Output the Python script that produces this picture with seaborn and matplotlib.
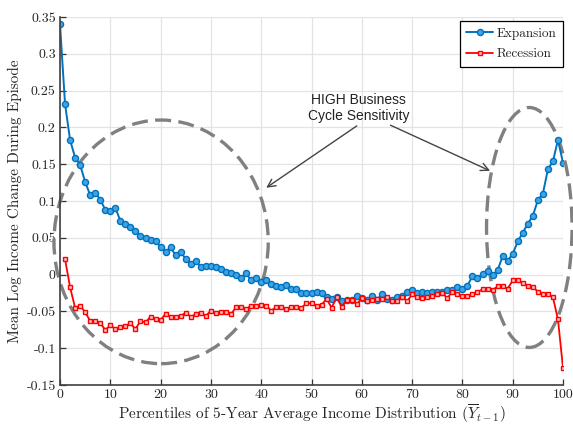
import numpy as np
import pandas as pd
import matplotlib
matplotlib.use("Agg")
import matplotlib.pyplot as plt
from matplotlib.patches import Ellipse
import seaborn as sns

# ---------------- data ----------------
exp_pct = list(range(0, 101))
expansion = [
    0.340, 0.232, 0.183, 0.159, 0.149, 0.126, 0.108, 0.111, 0.102, 0.088,
    0.087, 0.091, 0.073, 0.069, 0.064, 0.059, 0.052, 0.050, 0.047, 0.045,
    0.038, 0.031, 0.037, 0.026, 0.031, 0.021, 0.015, 0.019, 0.010, 0.012,
    0.012, 0.011, 0.008, 0.003, 0.002, 0.000, -0.004, 0.002, -0.008, -0.005,
    -0.010, -0.007, -0.013, -0.016, -0.017, -0.014, -0.019, -0.019, -0.025, -0.025,
    -0.025, -0.024, -0.025, -0.030, -0.033, -0.031, -0.036, -0.035, -0.034, -0.029,
    -0.032, -0.035, -0.029, -0.034, -0.027, -0.033, -0.034, -0.030, -0.029, -0.023,
    -0.021, -0.025, -0.024, -0.025, -0.024, -0.024, -0.023, -0.021, -0.021, -0.017,
    -0.020, -0.015, -0.002, -0.005, 0.001, 0.005, -0.001, 0.006, 0.025, 0.019,
    0.028, 0.045, 0.057, 0.069, 0.080, 0.101, 0.110, 0.143, 0.154, 0.183,
    0.152,
]
rec_pct = list(range(1, 101))
recession = [
    0.021, -0.017, -0.045, -0.042, -0.051, -0.063, -0.063, -0.066, -0.075, -0.069,
    -0.074, -0.071, -0.070, -0.066, -0.074, -0.063, -0.065, -0.057, -0.060, -0.062,
    -0.053, -0.057, -0.057, -0.056, -0.052, -0.057, -0.054, -0.052, -0.056, -0.049,
    -0.052, -0.051, -0.051, -0.054, -0.044, -0.044, -0.047, -0.042, -0.043, -0.041,
    -0.042, -0.049, -0.044, -0.044, -0.047, -0.044, -0.044, -0.045, -0.039, -0.039,
    -0.043, -0.041, -0.033, -0.045, -0.031, -0.044, -0.035, -0.034, -0.040, -0.032,
    -0.036, -0.034, -0.033, -0.033, -0.031, -0.036, -0.036, -0.030, -0.036, -0.027,
    -0.030, -0.032, -0.030, -0.029, -0.026, -0.025, -0.032, -0.023, -0.026, -0.029,
    -0.029, -0.027, -0.024, -0.020, -0.020, -0.021, -0.016, -0.016, -0.019, -0.008,
    -0.008, -0.012, -0.015, -0.017, -0.023, -0.027, -0.027, -0.031, -0.061, -0.127,
]
series_names = ["Expansion", "Recession"]
x_ticks = [0, 10, 20, 30, 40, 50, 60, 70, 80, 90, 100]
x_ticklabels = ["0", "10", "20", "30", "40", "50", "60", "70", "80", "90", "100"]
y_ticks = [0.35, 0.3, 0.25, 0.2, 0.15, 0.1, 0.05, 0, -0.05, -0.1, -0.15]
y_ticklabels = ["0.35", "0.3", "0.25", "0.2", "0.15", "0.1", "0.05", "0", "-0.05", "-0.1", "-0.15"]
annotation_text = "HIGH Business\nCycle Sensitivity"
x_label = r"Percentiles of 5-Year Average Income Distribution ($\overline{Y}_{t-1}$)"
y_label = "Mean Log Income Change During Episode"

df_exp = pd.DataFrame({"pct": exp_pct, "val": expansion})
df_rec = pd.DataFrame({"pct": rec_pct, "val": recession})

# ---------------- style ----------------
sns.set_theme(style="whitegrid")
plt.rcParams["font.family"] = ["cmr10", "DejaVu Serif"]
plt.rcParams["mathtext.fontset"] = "cm"
plt.rcParams["axes.unicode_minus"] = False

fig = plt.figure(figsize=(5.73, 4.32), dpi=100, facecolor="white")
ax = fig.add_axes([60 / 573, 1 - 385 / 432, 503 / 573, 368 / 432])
ax.set_facecolor("white")

blue = "#0072BD"
red = "#FF0000"

sns.lineplot(data=df_exp, x="pct", y="val", ax=ax, color=blue, linewidth=1.4,
             marker="o", markersize=4.4, markerfacecolor="#3FA3E6",
             markeredgecolor=blue, markeredgewidth=1.0, label=series_names[0])
sns.lineplot(data=df_rec, x="pct", y="val", ax=ax, color=red, linewidth=1.3,
             marker="s", markersize=3.4, markerfacecolor="#FFC0C0",
             markeredgecolor=red, markeredgewidth=1.0, label=series_names[1])

ax.set_xlim(0, 100)
ax.set_ylim(-0.15, 0.35)
ax.set_xticks(x_ticks)
ax.set_xticklabels(x_ticklabels)
ax.set_yticks(y_ticks)
ax.set_yticklabels(y_ticklabels)
ax.grid(True, color="#E3E3E3", linewidth=0.9)
ax.tick_params(axis="both", direction="in", length=4, width=0.9, color="#333333",
               labelsize=10, labelcolor="#262626", pad=3, left=True, bottom=True)

for side in ["top", "right"]:
    ax.spines[side].set_visible(False)
for side in ["left", "bottom"]:
    ax.spines[side].set_color("#404040")
    ax.spines[side].set_linewidth(1.2)

ax.set_xlabel(x_label, fontsize=11, color="#262626", labelpad=1)
ax.set_ylabel(y_label, fontsize=11, color="#262626")
ax.yaxis.set_label_coords(-0.076, 0.5)

# ellipses
ell_style = dict(fill=False, edgecolor="#808080", linewidth=2.4,
                 linestyle=(0, (4.8, 2.2)), clip_on=False, zorder=1)
ax.add_patch(Ellipse((20.1, 0.0445), 2 * 21.3, 2 * 0.1655, **ell_style))
ax.add_patch(Ellipse((93.3, 0.064), 2 * 8.5, 2 * 0.163, **ell_style))

# annotation
ax.text(59.3, 0.226, annotation_text, ha="center", va="center",
        fontsize=10, family=["Liberation Sans"], color="#222222")
arrow = dict(arrowstyle="->", color="#444444", linewidth=1.0, shrinkA=0, shrinkB=0,
             mutation_scale=14)
ax.annotate("", xy=(41.0, 0.118), xytext=(59.0, 0.202), arrowprops=arrow)
ax.annotate("", xy=(85.5, 0.141), xytext=(65.7, 0.203), arrowprops=arrow)

leg = ax.legend(loc="upper right", bbox_to_anchor=(1.0, 0.99), fontsize=9.5,
                frameon=True, fancybox=False, framealpha=1, edgecolor="black",
                borderaxespad=0.0, handlelength=2.0, handletextpad=0.3,
                borderpad=0.5, labelspacing=0.65)
leg.get_frame().set_linewidth(0.9)
for t in leg.get_texts():
    t.set_color("#262626")

fig.savefig("out.png", dpi=100, facecolor="white")
